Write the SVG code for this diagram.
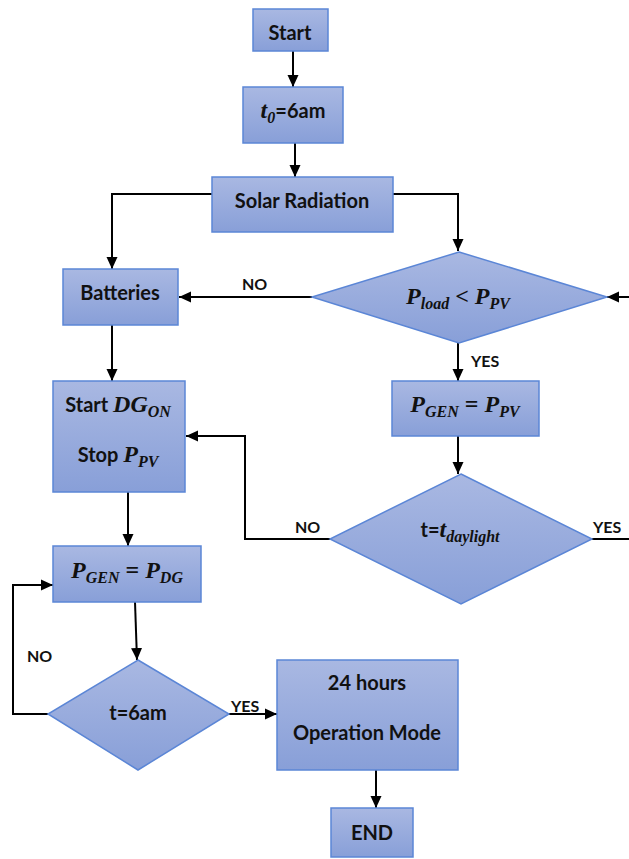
<svg xmlns="http://www.w3.org/2000/svg" width="629" height="859" viewBox="0 0 629 859">
<style>
.box{fill:url(#g);stroke:#5b86d6;stroke-width:1.5}
.t{font-family:Lato,"Liberation Sans",sans-serif;font-weight:bold;font-size:20px;fill:#111}
.lb{font-family:Lato,"Liberation Sans",sans-serif;font-weight:bold;font-size:16px;fill:#111}
.m{font-family:"Liberation Serif",serif;font-style:italic;font-weight:bold;font-size:24px;fill:#111}
.n{font-style:normal}
.s{font-size:16px}
.c{fill:none;stroke:#000;stroke-width:2}
</style>
<defs>
<linearGradient id="g" x1="0" y1="0" x2="0" y2="1">
<stop offset="0" stop-color="#a9b8e2"/>
<stop offset="1" stop-color="#889fd8"/>
</linearGradient>
<marker id="ah" markerWidth="12" markerHeight="12" refX="12" refY="6" orient="auto" markerUnits="userSpaceOnUse">
<path d="M0,0.5 L12,6 L0,11.5 z" fill="#000"/>
</marker>
</defs>
<rect width="629" height="859" fill="#fff"/>
<g id="connectors">
<path class="c" marker-end="url(#ah)" d="M293,51 V87"/>
<path class="c" marker-end="url(#ah)" d="M295,143 V177"/>
<path class="c" marker-end="url(#ah)" d="M212,194 H112 V269"/>
<path class="c" marker-end="url(#ah)" d="M393,194 H458 V251"/>
<path class="c" marker-end="url(#ah)" d="M312,297 H179"/>
<path class="c" marker-end="url(#ah)" d="M629,297 H607"/>
<path class="c" marker-end="url(#ah)" d="M458,343 V381"/>
<path class="c" marker-end="url(#ah)" d="M458,436 V474"/>
<path class="c" marker-end="url(#ah)" d="M330,539 H245 V436 H186"/>
<path class="c" d="M592,539 H629"/>
<path class="c" marker-end="url(#ah)" d="M112,325 V381"/>
<path class="c" marker-end="url(#ah)" d="M128,492 V546"/>
<path class="c" marker-end="url(#ah)" d="M135,602 L137,660"/>
<path class="c" marker-end="url(#ah)" d="M48,714 H13 V585 H53"/>
<path class="c" marker-end="url(#ah)" d="M229,714 H277"/>
<path class="c" marker-end="url(#ah)" d="M376,770 V808"/>
<text class="lb" x="242" y="290">NO</text>
<text class="lb" x="471" y="367">YES</text>
<text class="lb" x="295" y="533">NO</text>
<text class="lb" x="593" y="533">YES</text>
<text class="lb" x="27" y="662">NO</text>
<text class="lb" x="231" y="712">YES</text>
</g>
<g id="start"><rect class="box" x="253" y="9" width="75" height="42"/><text class="t" x="290" y="40" text-anchor="middle">Start</text></g>
<g id="t0"><rect class="box" x="243" y="87" width="100" height="56"/><text x="293" y="118" text-anchor="middle"><tspan class="m">t</tspan><tspan class="m s" dy="5">0</tspan><tspan class="t" dy="-5">=6am</tspan></text></g>
<g id="solar"><rect class="box" x="212" y="177" width="181" height="55"/><text class="t" x="302" y="208" text-anchor="middle">Solar Radiation</text></g>
<g id="batteries"><rect class="box" x="63" y="269" width="115" height="56"/><text class="t" x="120" y="300" text-anchor="middle">Batteries</text></g>
<g id="d1"><polygon class="box" points="459,252 607,297 459,343 312,297"/><text class="m" x="458" y="304" text-anchor="middle">P<tspan class="s" dy="5">load</tspan><tspan class="n" dy="-5"> &lt; </tspan>P<tspan class="s" dy="5">PV</tspan></text></g>
<g id="pgenpv"><rect class="box" x="392" y="381" width="147" height="55"/><text class="m" x="465" y="412" text-anchor="middle">P<tspan class="s" dy="5">GEN</tspan><tspan class="n" dy="-5"> = </tspan>P<tspan class="s" dy="5">PV</tspan></text></g>
<g id="startdg"><rect class="box" x="53" y="381" width="132" height="111"/>
<text x="118" y="412" text-anchor="middle"><tspan class="t">Start </tspan><tspan class="m">DG</tspan><tspan class="m s" dy="5">ON</tspan></text>
<text x="118" y="462" text-anchor="middle"><tspan class="t">Stop </tspan><tspan class="m">P</tspan><tspan class="m s" dy="5">PV</tspan></text></g>
<g id="d2"><polygon class="box" points="461,474 592,539 461,604 330,539"/><text x="460" y="537" text-anchor="middle"><tspan class="t">t=</tspan><tspan class="m">t</tspan><tspan class="m s" dy="5">daylight</tspan></text></g>
<g id="pgendg"><rect class="box" x="53" y="546" width="148" height="56"/><text class="m" x="127" y="578" text-anchor="middle">P<tspan class="s" dy="5">GEN</tspan><tspan class="n" dy="-5"> = </tspan>P<tspan class="s" dy="5">DG</tspan></text></g>
<g id="d3"><polygon class="box" points="138,660 229,714 138,770 48,714"/><text class="t" x="138" y="720" text-anchor="middle">t=6am</text></g>
<g id="mode"><rect class="box" x="277" y="660" width="181" height="110"/><text class="t" x="367" y="690" text-anchor="middle">24 hours</text><text class="t" x="367" y="740" text-anchor="middle">Operation Mode</text></g>
<g id="end"><rect class="box" x="331" y="808" width="82" height="49"/><text class="t" x="372" y="840" text-anchor="middle">END</text></g>
</svg>
